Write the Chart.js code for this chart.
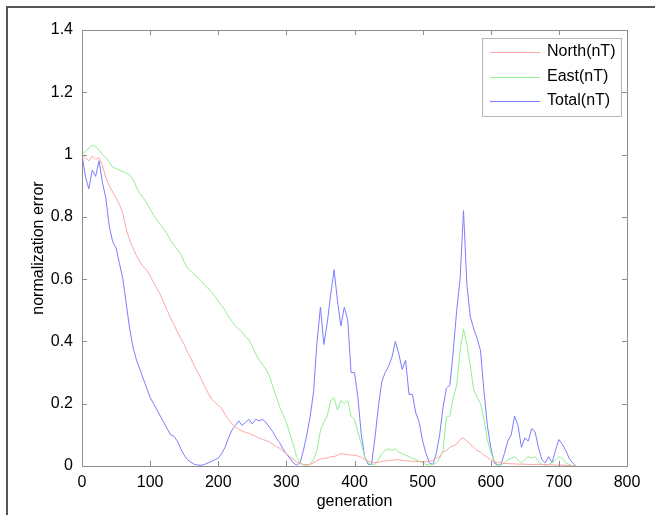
<!DOCTYPE html>
<html>
<head>
<meta charset="utf-8">
<script src="https://cdn.jsdelivr.net/npm/chart.js@4.4.1/dist/chart.umd.min.js"></script>
<style>
  body { margin: 0; background: #fff; }
  #wrap { width: 655px; height: 515px; }
</style>
</head>
<body>
<div id="wrap"><canvas id="errChart" width="655" height="515"></canvas></div>
<script>
// generations sampled every 5 steps (0 .. 725)
const generation = Array.from({ length: 146 }, (_, i) => i * 5);

const seriesLabels = ['North(nT)', 'East(nT)', 'Total(nT)'];

// normalization error
const north = [
  1.00, 0.99, 0.98, 0.995, 0.985, 0.99, 0.965, 0.925, 0.90, 0.88,
  0.86, 0.84, 0.81, 0.76, 0.725, 0.70, 0.675, 0.655, 0.64, 0.63,
  0.61, 0.59, 0.57, 0.55, 0.525, 0.50, 0.475, 0.455, 0.43, 0.41,
  0.39, 0.365, 0.345, 0.32, 0.30, 0.28, 0.255, 0.235, 0.215, 0.205,
  0.195, 0.185, 0.165, 0.15, 0.135, 0.125, 0.118, 0.112, 0.108, 0.105,
  0.10, 0.095, 0.09, 0.085, 0.082, 0.078, 0.07, 0.063, 0.057, 0.048,
  0.04, 0.03, 0.022, 0.013, 0.008, 0.005, 0.004, 0.006, 0.01, 0.018,
  0.022, 0.025, 0.025, 0.03, 0.03, 0.035, 0.04, 0.038, 0.036, 0.035,
  0.035, 0.032, 0.028, 0.02, 0.015, 0.012, 0.01, 0.012, 0.015, 0.016,
  0.017, 0.018, 0.02, 0.02, 0.018, 0.017, 0.016, 0.015, 0.015, 0.014,
  0.014, 0.014, 0.015, 0.018, 0.025, 0.03, 0.045, 0.05, 0.06, 0.065,
  0.07, 0.085, 0.09, 0.08, 0.07, 0.06, 0.05, 0.045, 0.035, 0.028,
  0.02, 0.015, 0.012, 0.01, 0.008, 0.008, 0.007, 0.007, 0.006, 0.006,
  0.006, 0.005, 0.005, 0.005, 0.005, 0.005, 0.004, 0.004, 0.004, 0.003,
  0.003, 0.003, 0.002, 0.002, 0.0, 0.0
];

const east = [
  1.00, 1.01, 1.02, 1.03, 1.025, 1.015, 1.00, 0.99, 0.975, 0.96,
  0.955, 0.95, 0.945, 0.94, 0.935, 0.92, 0.895, 0.875, 0.86, 0.845,
  0.825, 0.805, 0.79, 0.775, 0.76, 0.745, 0.725, 0.71, 0.695, 0.68,
  0.655, 0.635, 0.625, 0.615, 0.605, 0.595, 0.58, 0.57, 0.56, 0.545,
  0.53, 0.515, 0.50, 0.48, 0.465, 0.45, 0.44, 0.43, 0.415, 0.405,
  0.385, 0.36, 0.34, 0.325, 0.31, 0.29, 0.255, 0.225, 0.19, 0.165,
  0.14, 0.105, 0.07, 0.03, 0.01, 0.003, 0.002, 0.005, 0.02, 0.05,
  0.115, 0.14, 0.16, 0.21, 0.22, 0.18, 0.21, 0.20, 0.21, 0.16,
  0.15, 0.11, 0.07, 0.03, 0.01, 0.003, 0.005, 0.02, 0.04, 0.05,
  0.055, 0.05, 0.055, 0.045, 0.04, 0.035, 0.03, 0.025, 0.02, 0.015,
  0.01, 0.005, 0.003, 0.005, 0.01, 0.025, 0.05, 0.16, 0.16, 0.22,
  0.26, 0.37, 0.44, 0.39, 0.32, 0.245, 0.22, 0.20, 0.15, 0.085,
  0.045, 0.015, 0.005, 0.003, 0.01, 0.02, 0.025, 0.03, 0.02, 0.01,
  0.02, 0.03, 0.025, 0.03, 0.015, 0.005, 0.003, 0.005, 0.01, 0.02,
  0.03, 0.025, 0.01, 0.005, 0.0, 0.0
];

const total = [
  1.00, 0.93, 0.89, 0.95, 0.93, 0.98, 0.91, 0.86, 0.77, 0.72,
  0.70, 0.65, 0.60, 0.52, 0.44, 0.38, 0.34, 0.31, 0.28, 0.25,
  0.22, 0.20, 0.18, 0.16, 0.14, 0.12, 0.10, 0.095, 0.08, 0.055,
  0.035, 0.02, 0.012, 0.005, 0.003, 0.002, 0.005, 0.01, 0.015, 0.02,
  0.025, 0.04, 0.06, 0.09, 0.115, 0.13, 0.145, 0.13, 0.14, 0.15,
  0.135, 0.15, 0.145, 0.15, 0.14, 0.125, 0.11, 0.09, 0.075, 0.055,
  0.04, 0.025, 0.01, 0.003, 0.01, 0.05, 0.10, 0.16, 0.24, 0.40,
  0.51, 0.39, 0.46, 0.55, 0.63, 0.53, 0.45, 0.51, 0.47, 0.30,
  0.30, 0.22, 0.10, 0.03, 0.005, 0.005, 0.09, 0.19, 0.27, 0.30,
  0.32, 0.35, 0.40, 0.36, 0.31, 0.34, 0.23, 0.23, 0.17, 0.14,
  0.08, 0.04, 0.01, 0.005, 0.04, 0.10, 0.19, 0.25, 0.26, 0.37,
  0.50, 0.60, 0.82, 0.58, 0.48, 0.44, 0.41, 0.37, 0.24, 0.13,
  0.06, 0.01, 0.003, 0.005, 0.04, 0.08, 0.10, 0.16, 0.13, 0.06,
  0.09, 0.08, 0.12, 0.11, 0.06, 0.02, 0.01, 0.03, 0.01, 0.05,
  0.085, 0.07, 0.05, 0.025, 0.01, 0.0
];

const xTicks = [0, 100, 200, 300, 400, 500, 600, 700, 800];
const yTicks = [0, 0.2, 0.4, 0.6, 0.8, 1, 1.2, 1.4];

const lineColors = ['rgb(255,165,165)', 'rgb(145,240,145)', 'rgb(125,125,255)'];
const FONT = 'Liberation Sans, Arial, sans-serif';

function toPoints(values) {
  return generation.map((g, i) => ({ x: g, y: values[i] }));
}

// cadre de la figure, boite des axes avec graduations internes, legende
const matlabLook = {
  id: 'matlabLook',
  beforeDraw(chart) {
    const ctx = chart.ctx;
    ctx.save();
    ctx.fillStyle = '#fff';
    ctx.fillRect(0, 0, chart.width, chart.height);
    ctx.strokeStyle = '#555';
    ctx.lineWidth = 2;
    ctx.beginPath();
    ctx.moveTo(7, chart.height);
    ctx.lineTo(7, 7);
    ctx.lineTo(chart.width, 7);
    ctx.stroke();
    ctx.restore();
  },
  afterDraw(chart) {
    const ctx = chart.ctx;
    const { left, right, top, bottom } = chart.chartArea;
    const xs = chart.scales.x, ys = chart.scales.y;
    ctx.save();
    ctx.strokeStyle = '#8e8e8e';
    ctx.lineWidth = 1;
    ctx.strokeRect(left + 0.5, top + 0.5, right - left, bottom - top);
    ctx.beginPath();
    xTicks.forEach(v => {
      const px = Math.round(xs.getPixelForValue(v)) + 0.5;
      ctx.moveTo(px, bottom); ctx.lineTo(px, bottom - 5);
      ctx.moveTo(px, top); ctx.lineTo(px, top + 5);
    });
    yTicks.forEach(v => {
      const py = Math.round(ys.getPixelForValue(v)) + 0.5;
      ctx.moveTo(left, py); ctx.lineTo(left + 5, py);
      ctx.moveTo(right, py); ctx.lineTo(right - 5, py);
    });
    ctx.stroke();

    // legende
    const bx = 482, by = 38, bw = 139, bh = 78;
    ctx.fillStyle = '#fff';
    ctx.fillRect(bx, by, bw, bh);
    ctx.strokeStyle = '#b5b5b5';
    ctx.strokeRect(bx + 0.5, by + 0.5, bw, bh);
    ctx.font = '16px ' + FONT;
    ctx.textBaseline = 'middle';
    ctx.fillStyle = '#000';
    chart.data.datasets.forEach((ds, i) => {
      const cy = by + 14 + i * 24.5;
      ctx.strokeStyle = ds.borderColor;
      ctx.beginPath();
      ctx.moveTo(490, Math.round(cy) + 0.5);
      ctx.lineTo(540, Math.round(cy) + 0.5);
      ctx.stroke();
      ctx.fillText(ds.label, 547, cy);
    });
    ctx.restore();
  }
};

const ctx = document.getElementById('errChart').getContext('2d');
new Chart(ctx, {
  type: 'line',
  data: {
    datasets: [
      { label: seriesLabels[0], data: toPoints(north), borderColor: lineColors[0] },
      { label: seriesLabels[1], data: toPoints(east), borderColor: lineColors[1] },
      { label: seriesLabels[2], data: toPoints(total), borderColor: lineColors[2] }
    ]
  },
  options: {
    responsive: false,
    animation: false,
    layout: { padding: { top: 30, right: 28, left: 0, bottom: 0 } },
    elements: {
      line: { borderWidth: 1, tension: 0, fill: false },
      point: { radius: 0 }
    },
    plugins: { legend: { display: false }, tooltip: { enabled: false } },
    scales: {
      x: {
        type: 'linear',
        min: 0, max: 800,
        afterBuildTicks: s => { s.ticks = xTicks.map(v => ({ value: v })); },
        afterFit: s => { s.height = 49; },
        grid: { display: false, drawTicks: false },
        border: { display: false },
        ticks: { color: '#000', font: { family: FONT, size: 16 }, padding: 7, maxRotation: 0 },
        title: { display: true, text: 'generation', color: '#000', font: { family: FONT, size: 16 }, padding: { top: 4, bottom: 4 } }
      },
      y: {
        min: 0, max: 1.4,
        afterBuildTicks: s => { s.ticks = yTicks.map(v => ({ value: v })); },
        afterFit: s => { s.width = 82; },
        grid: { display: false, drawTicks: false },
        border: { display: false },
        ticks: {
          color: '#000', font: { family: FONT, size: 16 }, padding: 9,
          callback: v => String(+v.toFixed(1))
        },
        title: { display: true, text: 'normalization error', color: '#000', font: { family: FONT, size: 16 }, padding: { top: 29, bottom: 29 } }
      }
    }
  },
  plugins: [matlabLook]
});
</script>
</body>
</html>
